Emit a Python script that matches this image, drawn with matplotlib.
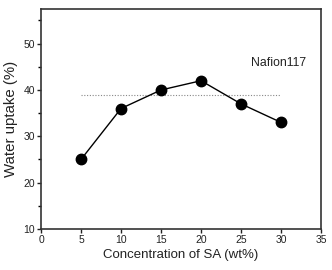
import matplotlib
matplotlib.use('Agg')
import matplotlib.pyplot as plt
from matplotlib.ticker import MultipleLocator

# 数据
lstConc = [5, 10, 15, 20, 25, 30]
lstUptake = [25, 36, 40, 42, 37, 33]
fNafion = 39
lstNafionX = [5, 30]

plt.rcParams['font.family'] = ['Liberation Sans', 'DejaVu Sans']

fig = plt.figure(figsize=(3.32, 2.70), dpi=100)
ax = fig.add_axes([0.1235, 0.152, 0.8435, 0.815])

ax.plot(lstNafionX, [fNafion, fNafion], linestyle=(0, (1, 1.5)), color='#888888', linewidth=0.8)
ax.plot(lstConc, lstUptake, color='black', linewidth=1.0, marker='o',
        markersize=7.5, markerfacecolor='black', markeredgecolor='black')
ax.text(29.7, 45.8, 'Nafion117', fontsize=8.8, ha='center', va='center', color='#222222')

ax.set_xlim(0, 35)
ax.set_ylim(10, 57.5)
ax.xaxis.set_major_locator(MultipleLocator(5))
ax.yaxis.set_major_locator(MultipleLocator(10))
ax.yaxis.set_minor_locator(MultipleLocator(5))
ax.tick_params(axis='both', which='major', direction='out', length=3, width=1.0,
               labelsize=7.5, pad=1.5, colors='#222222')
ax.tick_params(axis='y', which='minor', direction='out', length=2, width=1.0)
for sSide in ['left', 'bottom', 'top', 'right']:
    ax.spines[sSide].set_linewidth(1.2)
    ax.spines[sSide].set_color('#333333')

ax.set_xlabel('Concentration of SA (wt%)', fontsize=9.5, labelpad=3, color='#222222')
ax.set_ylabel('Water uptake (%)', fontsize=10.8, labelpad=4, color='#222222')

fig.savefig('out.png', dpi=100)
